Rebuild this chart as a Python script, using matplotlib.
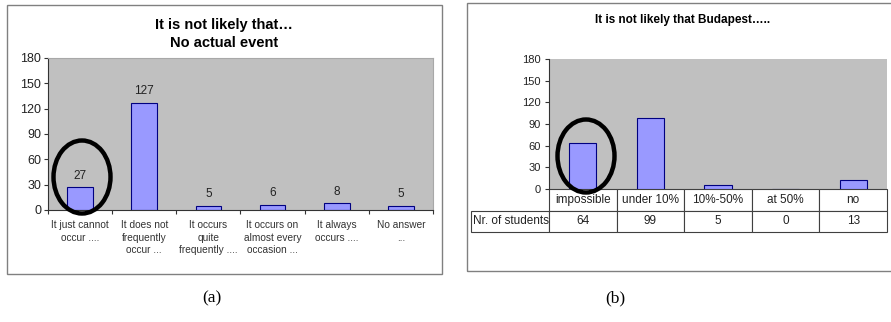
import numpy as np
import matplotlib
matplotlib.use('Agg')
import matplotlib.pyplot as plt
from matplotlib.patches import Rectangle, Ellipse
from matplotlib.table import Table

plt.rcParams['font.family'] = ['Liberation Sans', 'DejaVu Sans']

# survey answers, chart (a)
cats_a = ['It just cannot\noccur ....', 'It does not\nfrequently\noccur ...',
          'It occurs\nquite\nfrequently ....', 'It occurs on\nalmost every\noccasion ...',
          'It always\noccurs ....', 'No answer\n...']
vals_a = [27, 127, 5, 6, 8, 5]

# survey answers, chart (b)
cats_b = ['impossible', 'under 10%', '10%-50%', 'at 50%', 'no']
vals_b = [64, 99, 5, 0, 13]
row_label_b = 'Nr. of students'

yticks = [0, 30, 60, 90, 120, 150, 180]

W, H = 891, 322
BAR = '#9999FF'
BG = '#C0C0C0'
EDGE = '#000080'

fig = plt.figure(figsize=(W / 100, H / 100), dpi=100)
fig.patch.set_facecolor('white')

def rect(x0, y0, x1, y1):
    # pixel box (top-left origin) -> figure fraction
    return [x0 / W, 1 - y1 / H, (x1 - x0) / W, (y1 - y0) / H]

# outer frames
for x0, y0, x1, y1 in [(7, 5, 442, 274), (467, 3, 900, 271)]:
    fig.patches.append(Rectangle((x0 / W, 1 - y1 / H), (x1 - x0) / W, (y1 - y0) / H,
                                 transform=fig.transFigure, fill=False,
                                 edgecolor='#808080', linewidth=1.0))

# ---- chart (a)
ax = fig.add_axes(rect(48, 58, 433, 210))
ax.set_facecolor(BG)
x = np.arange(len(vals_a))
ax.bar(x, vals_a, width=0.4, color=BAR, edgecolor=EDGE, linewidth=0.8, zorder=2)
for xi, v in zip(x, vals_a):
    ax.annotate(str(v), (xi, v), xytext=(0, 4), textcoords='offset points',
                ha='center', va='bottom', fontsize=8.5, color='#222222')
ax.set_xlim(-0.5, len(vals_a) - 0.5)
ax.set_ylim(0, 180)
ax.set_yticks(yticks)
ax.tick_params(axis='y', labelsize=9, length=3, width=0.8, color='#333333',
               labelcolor='#222222', pad=2)
ax.set_xticks(x)
ax.set_xticklabels(cats_a, fontsize=7.3, color='#333333', linespacing=1.35)
ax.tick_params(axis='x', length=0, pad=7)
ax.set_xticks(np.arange(len(vals_a) + 1) - 0.5, minor=True)
ax.tick_params(axis='x', which='minor', length=3, width=0.8, color='#333333')
for s in ['top', 'right']:
    ax.spines[s].set_color('#A8A8A8')
    ax.spines[s].set_linewidth(0.8)
for s in ['left', 'bottom']:
    ax.spines[s].set_color('#333333')
    ax.spines[s].set_linewidth(0.8)
fig.text(224 / W, 1 - 34 / H, 'It is not likely that\u2026\nNo actual event',
         ha='center', va='center', fontsize=10.5, fontweight='bold', linespacing=1.35)
fig.patches.append(Ellipse((82 / W, 1 - 177 / H), 57 / W, 73 / H,
                           transform=fig.transFigure, fill=False,
                           edgecolor='black', linewidth=3.2, zorder=5))

# ---- chart (b)
bx = fig.add_axes(rect(549, 59, 887, 189))
bx.set_facecolor(BG)
xb = np.arange(len(vals_b))
bx.bar(xb, vals_b, width=0.4, color=BAR, edgecolor=EDGE, linewidth=0.8, zorder=2)
bx.set_xlim(-0.5, len(vals_b) - 0.5)
bx.set_ylim(0, 180)
bx.set_yticks(yticks)
bx.set_xticks([])
bx.tick_params(axis='y', labelsize=8, length=3, width=0.8, color='#333333',
               labelcolor='#222222', pad=3)
for s in ['top', 'right', 'bottom']:
    bx.spines[s].set_visible(False)
bx.spines['left'].set_color('#333333')
bx.spines['left'].set_linewidth(0.8)

# data table under chart (b); bbox covers the data columns only,
# the row-label column hangs off to the left
plot_w = 887 - 549
lab_w = (549 - 471) / plot_w
th = (232 - 189) / 130
tb = Table(bx, bbox=[0, -th, 1, th])
cw = 1.0 / len(cats_b)
for j, c in enumerate(cats_b):
    tb.add_cell(0, j, width=cw, height=1, text=c, loc='center')
for j, v in enumerate(vals_b):
    tb.add_cell(1, j, width=cw, height=1, text=str(v), loc='center')
corner = tb.add_cell(0, -1, width=lab_w, height=1, text='')
tb.add_cell(1, -1, width=lab_w, height=1, text=row_label_b, loc='left')
tb.auto_set_font_size(False)
tb.set_fontsize(8.5)
for (r, c), cell in tb.get_celld().items():
    cell.set_edgecolor('#404040')
    cell.set_linewidth(0.8)
    cell.set_facecolor('white')
    cell.PAD = 0.02
    cell.get_text().set_color('#222222')
corner.set_edgecolor('none')
corner.set_facecolor('none')
bx.add_table(tb)

fig.text(683 / W, 1 - 20 / H, 'It is not likely that Budapest\u2026..',
         ha='center', va='center', fontsize=8.5, fontweight='bold')
fig.patches.append(Ellipse((586 / W, 1 - 156 / H), 57 / W, 73 / H,
                           transform=fig.transFigure, fill=False,
                           edgecolor='black', linewidth=3.2, zorder=5))

# sub-captions
fig.text(212 / W, 1 - 298 / H, '(a)', ha='center', va='center',
         fontsize=12.5, family='Liberation Serif')
fig.text(615 / W, 1 - 298 / H, '(b)', ha='center', va='center',
         fontsize=12.5, family='Liberation Serif')

fig.savefig('out.png', dpi=100)
